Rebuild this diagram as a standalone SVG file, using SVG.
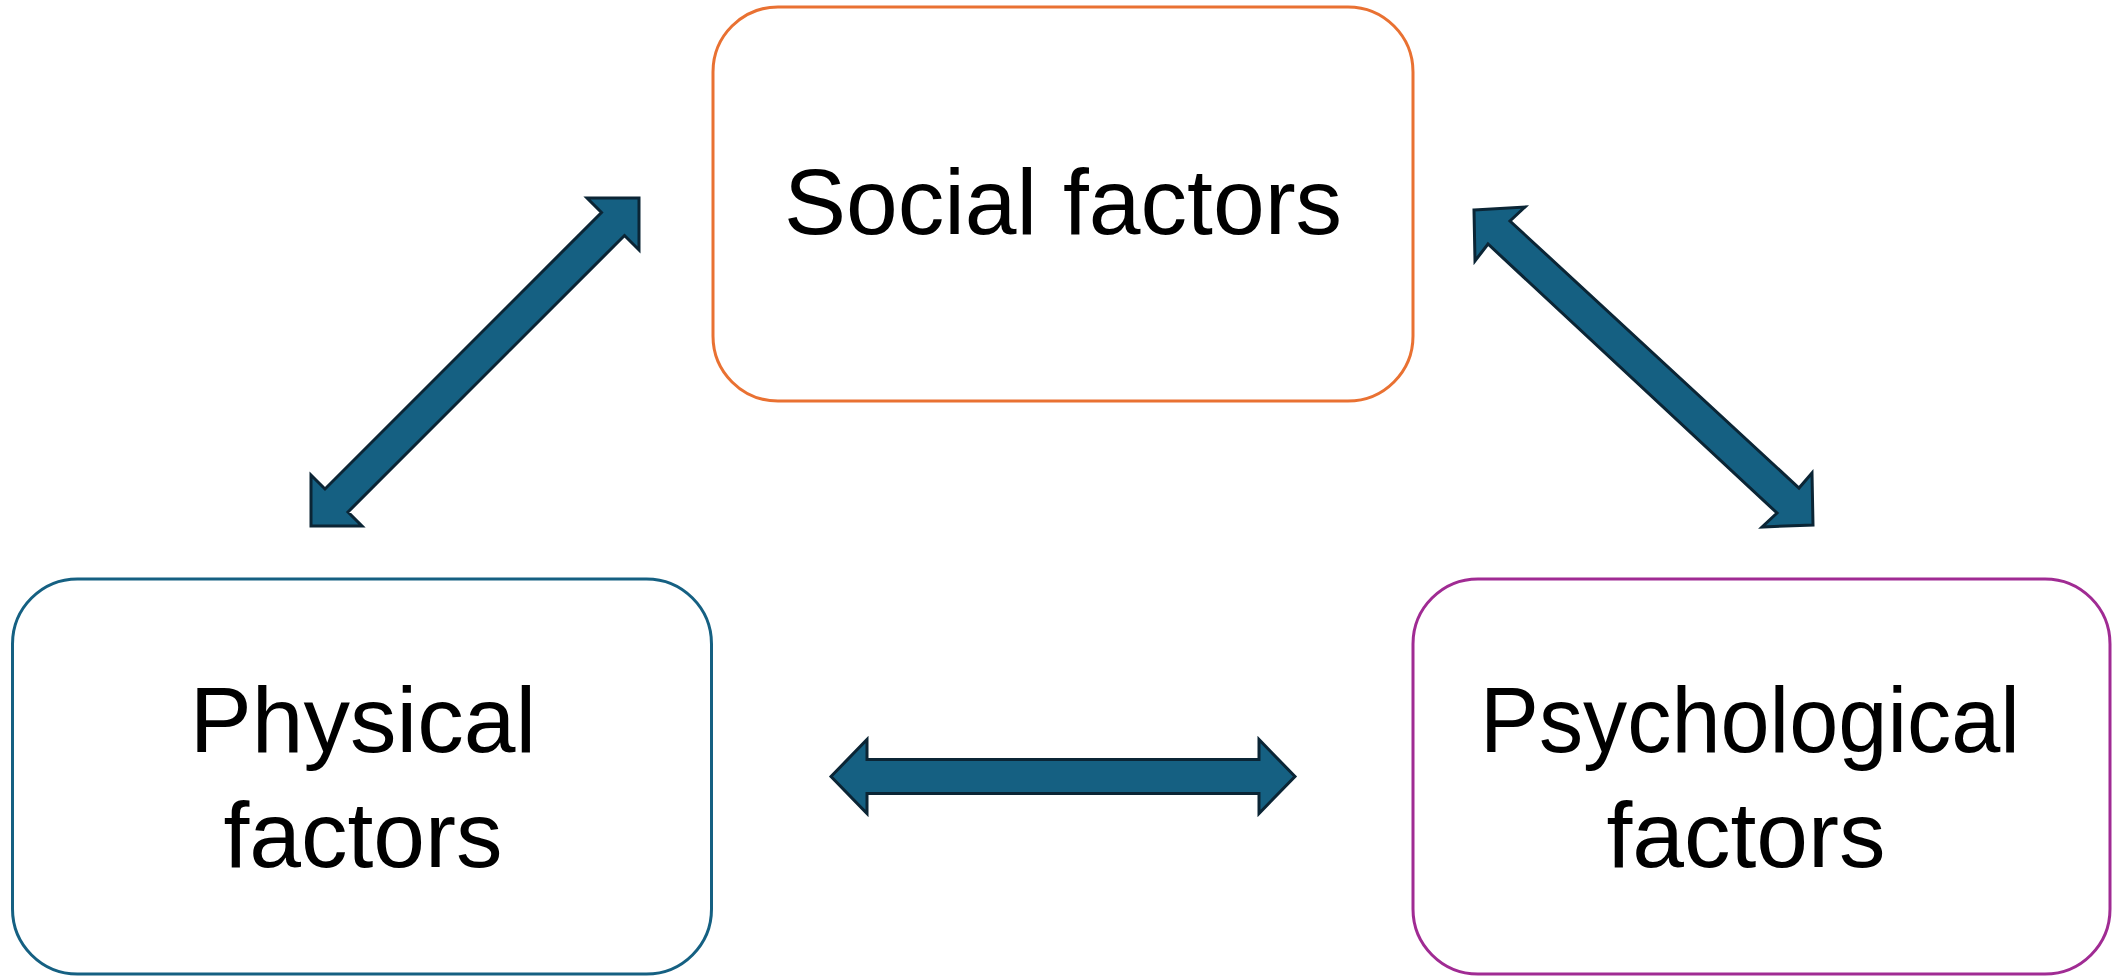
<svg xmlns="http://www.w3.org/2000/svg" width="2113" height="977" viewBox="0 0 2113 977">
<style>
.box{fill:#fff;stroke-width:3}
.lbl{font-family:"Liberation Sans",Arial,sans-serif;font-size:93px;fill:#000;text-anchor:middle}
.arr{fill:#156082;stroke:#0B2535;stroke-width:3;stroke-linejoin:miter}
</style>
<rect width="2113" height="977" fill="#fff"/>
<g id="social">
<rect class="box" x="713" y="7" width="700" height="394" rx="65" stroke="#E97132"/>
<text class="lbl" x="1063" y="234">Social factors</text>
</g>
<g id="physical">
<rect class="box" x="12.5" y="579" width="699" height="395" rx="65" stroke="#156082"/>
<text class="lbl" x="363" y="752">Physical</text>
<text class="lbl" x="363" y="867">factors</text>
</g>
<g id="psychological">
<rect class="box" x="1413" y="579" width="697" height="395" rx="65" stroke="#A02B93"/>
<text class="lbl" x="1750" y="752" textLength="540" lengthAdjust="spacingAndGlyphs">Psychological</text>
<text class="lbl" x="1746" y="867">factors</text>
</g>
<g id="connectors">
<path class="arr" d="M639,198 L639,250 L624.5,235.5 L348,512 L362,526 L311,526 L311,475 L325,489 L601.5,212.5 L587,198 Z"/>
<path class="arr" d="M1474,210 L1525,207 L1510,221 L1799,488 L1812,473 L1813,525 L1762,527 L1777,513 L1488,244 L1475,261 Z"/>
<path class="arr" d="M831,776.5 L867,739.5 L867,759.5 L1259,759.5 L1259,739.5 L1295,776.5 L1259,813.5 L1259,793.5 L867,793.5 L867,813.5 Z"/>
</g>
</svg>
